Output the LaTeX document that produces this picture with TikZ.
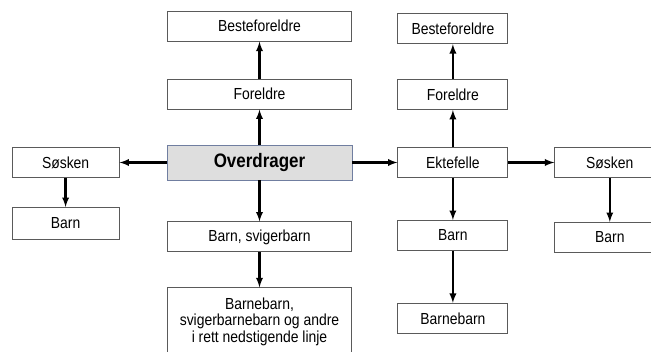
\documentclass[tikz,border=0pt]{standalone}
\usepackage{fontspec}
\setmainfont{Liberation Sans}[FakeStretch=0.87]
\usepackage{tikz}
\usetikzlibrary{arrows, positioning}
\definecolor{odfill}{RGB}{222,222,222}
\definecolor{oddraw}{RGB}{112,126,160}
\definecolor{boxdraw}{RGB}{90,90,90}

\begin{document}
\begin{tikzpicture}[
        x=1pt, y=1pt,
        font=\fontsize{16}{16.7}\selectfont,
        famblock/.style={rectangle, draw=boxdraw, line width=0.9pt, minimum height=30pt, align=center, fill=white, inner sep=2pt},
        wide/.style={famblock, minimum width=184pt},
        narrow/.style={famblock, minimum width=110pt},
        arrow/.style={line width=2.2pt, ->, >=latex}
    ]
    \clip (-259.5,162.5) rectangle (391.5,-188.5);

    \node[rectangle, draw=oddraw, line width=0.9pt, fill=odfill, minimum width=185pt, minimum height=35pt, font=\fontsize{19.5}{20}\selectfont\bfseries] (od) at (0,0) {Overdrager};
    \node[wide, above=35pt of od] (f1) {Foreldre};
    \node[wide, above=37pt of f1] (bf1) {Besteforeldre};
    \node[wide, below=41pt of od] (bs) {Barn, svigerbarn};
    \node[wide, below=35pt of bs, minimum height=68pt] (bb) {Barnebarn,\\svigerbarnebarn og andre\\i rett nedstigende linje};

    \node[famblock, minimum width=107pt, left=47pt of od] (s1) {Søsken};
    \node[famblock, minimum width=107pt, minimum height=32pt, below=29pt of s1] (b1) {Barn};

    \node[narrow, right=45pt of od] (ek) {Ektefelle};
    \node[narrow, above=37pt of ek] (f2) {Foreldre};
    \node[narrow, above=35pt of f2] (bf2) {Besteforeldre};
    \node[narrow, below=42pt of ek] (b2) {Barn};
    \node[narrow, below=52pt of b2] (bn) {Barnebarn};

    \node[narrow, right=46pt of ek] (s2) {Søsken};
    \node[narrow, below=44pt of s2] (b3) {Barn};

    \draw[arrow] (od) -- (f1);
    \draw[arrow] (f1) -- (bf1);
    \draw[arrow] (od) -- (bs);
    \draw[arrow] (bs) -- (bb);
    \draw[arrow] (od) -- (s1);
    \draw[arrow] (s1) -- (b1);

    \draw[arrow] (od) -- (ek);
    \draw[arrow] (ek) -- (f2);
    \draw[arrow] (f2) -- (bf2);
    \draw[arrow] (ek) -- (b2);
    \draw[arrow] (b2) -- (bn);
    \draw[arrow] (ek) -- (s2);
    \draw[arrow] (s2) -- (b3);
    \end{tikzpicture}
\end{document}
